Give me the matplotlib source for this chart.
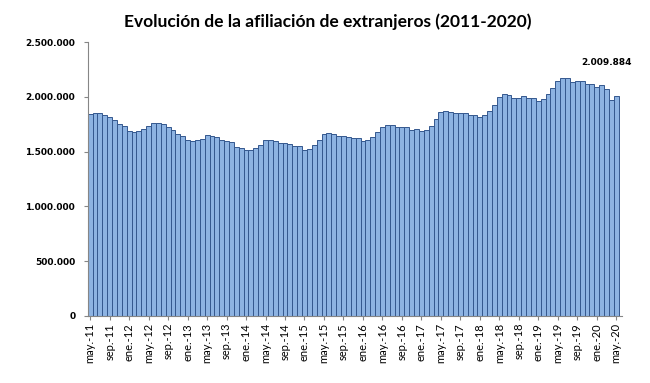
import numpy as np
import matplotlib
matplotlib.use("Agg")
import matplotlib.pyplot as plt
from matplotlib.ticker import FuncFormatter

# Monthly foreign affiliates, may-11 .. may-20
affiliates = [
    1845000, 1851000, 1851000, 1832000, 1817000, 1787000, 1756000, 1738000,
    1692000, 1680000, 1689000, 1707000, 1735000, 1762000, 1765000, 1750000,
    1729000, 1698000, 1662000, 1643000, 1604000, 1595000, 1604000, 1616000,
    1649000, 1640000, 1631000, 1607000, 1595000, 1591000, 1546000, 1537000,
    1515000, 1518000, 1534000, 1561000, 1607000, 1607000, 1598000, 1582000,
    1579000, 1567000, 1549000, 1552000, 1515000, 1527000, 1561000, 1607000,
    1659000, 1671000, 1665000, 1643000, 1643000, 1631000, 1622000, 1625000,
    1601000, 1610000, 1637000, 1680000, 1726000, 1747000, 1747000, 1723000,
    1723000, 1729000, 1701000, 1710000, 1686000, 1698000, 1735000, 1796000,
    1860000, 1875000, 1866000, 1851000, 1854000, 1851000, 1838000, 1835000,
    1814000, 1835000, 1872000, 1930000, 2000000, 2024000, 2021000, 1988000,
    1991000, 2006000, 1988000, 1991000, 1966000, 1982000, 2024000, 2082000,
    2149000, 2177000, 2168000, 2134000, 2146000, 2149000, 2119000, 2119000,
    2092000, 2110000, 2070000, 1970000, 2009884,
]

month_names = ["ene", "feb", "mar", "abr", "may", "jun",
               "jul", "ago", "sep", "oct", "nov", "dic"]
labels = []
m, y = 4, 11
for _ in affiliates:
    labels.append(f"{month_names[m]}.-{y}")
    m += 1
    if m == 12:
        m, y = 0, y + 1

tick_idx = list(range(0, len(affiliates), 4))


def fmt_dots(v, pos):
    return f"{int(v):,}".replace(",", ".")


fig = plt.figure(figsize=(6.5, 3.83), dpi=100)
ax = fig.add_axes([0.135, 0.175, 0.822, 0.715])

x = np.arange(len(affiliates))
ax.bar(x, affiliates, width=1.0, color="#8db3e2", edgecolor="#34588e",
       linewidth=0.7)

ax.set_ylim(0, 2500000)
ax.set_yticks(np.arange(0, 2500001, 500000))
ax.yaxis.set_major_formatter(FuncFormatter(fmt_dots))
ax.set_xlim(-0.5, len(affiliates) + 0.2)
ax.set_xticks(tick_idx)
ax.set_xticklabels([labels[i] for i in tick_idx], rotation=90,
                   fontsize=8, family="Lato")

for lab in ax.get_yticklabels():
    lab.set_fontweight("bold")
    lab.set_fontsize(6.5)

ax.spines["top"].set_visible(False)
ax.spines["right"].set_visible(False)
ax.spines["left"].set_color("#868686")
ax.spines["bottom"].set_color("#868686")
ax.tick_params(axis="y", length=3, color="#868686", pad=6)
ax.tick_params(axis="x", length=3, color="#868686", pad=2)

last = len(affiliates) - 1
ax.annotate(fmt_dots(affiliates[last], None), xy=(last, affiliates[last]),
            xytext=(-7, 22), textcoords="offset points", ha="center",
            fontsize=6.5, fontweight="bold")

fig.text(0.505, 0.942, "Evolución de la afiliación de extranjeros (2011-2020)",
         ha="center", va="center", fontsize=12.5, fontweight="bold",
         family="Lato")

fig.savefig("out.png", dpi=100)
